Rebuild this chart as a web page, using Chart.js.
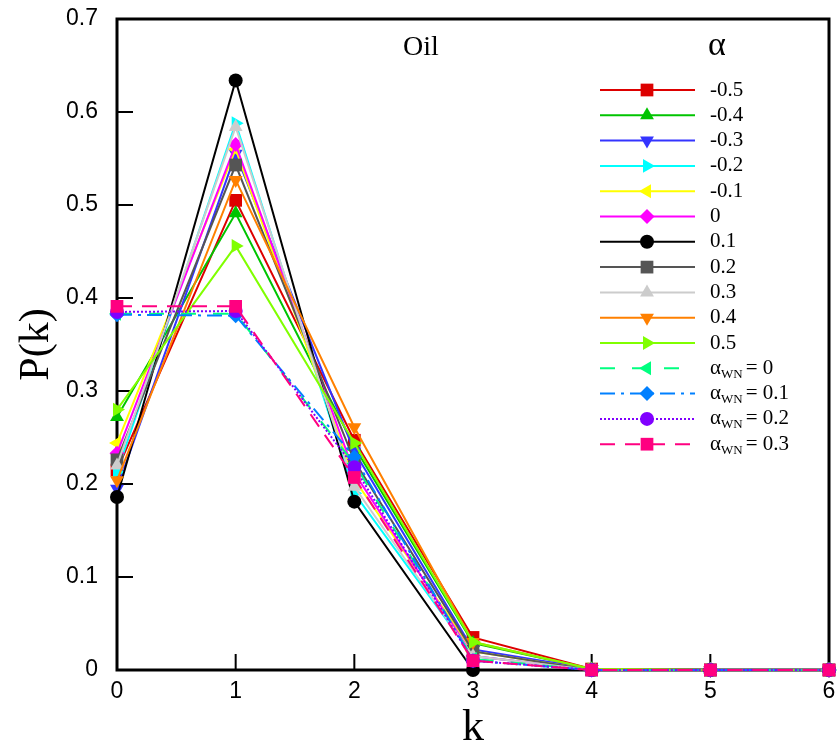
<!DOCTYPE html>
<html>
<head>
<meta charset="utf-8">
<script src="https://cdn.jsdelivr.net/npm/chart.js@4"></script>
<style>
  html, body { margin: 0; padding: 0; background: #fff; }
  #wrap { width: 838px; height: 748px; }
</style>
</head>
<body>
<div id="wrap"><canvas id="chart" width="838" height="748"></canvas></div>
<script>
// degree distribution P(k) for the oil network, one line per alpha
const kValues = [0, 1, 2, 3, 4, 5, 6];
const yTicks = [0, 0.1, 0.2, 0.3, 0.4, 0.5, 0.6, 0.7];

const seriesLabels = ["-0.5", "-0.4", "-0.3", "-0.2", "-0.1", "0", "0.1", "0.2", "0.3", "0.4", "0.5",
  "αWN = 0", "αWN = 0.1", "αWN = 0.2", "αWN = 0.3"];

const pAlphaM05 = [0.215, 0.505, 0.247, 0.035, 0.001, 0, 0];
const pAlphaM04 = [0.272, 0.491, 0.240, 0.029, 0.001, 0, 0];
const pAlphaM03 = [0.195, 0.555, 0.235, 0.022, 0.001, 0, 0];
const pAlphaM02 = [0.213, 0.588, 0.190, 0.015, 0, 0, 0];
const pAlphaM01 = [0.244, 0.560, 0.205, 0.020, 0, 0, 0];
const pAlpha0 = [0.233, 0.565, 0.212, 0.015, 0, 0, 0];
const pAlpha01 = [0.186, 0.634, 0.181, 0.000, 0, 0, 0];
const pAlpha02 = [0.226, 0.543, 0.225, 0.020, 0, 0, 0];
const pAlpha03 = [0.220, 0.584, 0.197, 0.015, 0, 0, 0];
const pAlpha04 = [0.204, 0.527, 0.261, 0.030, 0.001, 0, 0];
const pAlpha05 = [0.280, 0.456, 0.244, 0.030, 0.001, 0, 0];
const pWN0 = [0.383, 0.383, 0.222, 0.012, 0, 0, 0];
const pWN01 = [0.382, 0.381, 0.229, 0.010, 0, 0, 0];
const pWN02 = [0.385, 0.386, 0.218, 0.010, 0, 0, 0];
const pWN03 = [0.391, 0.391, 0.207, 0.010, 0, 0, 0];

const seriesValues = [pAlphaM05, pAlphaM04, pAlphaM03, pAlphaM02, pAlphaM01, pAlpha0, pAlpha01,
  pAlpha02, pAlpha03, pAlpha04, pAlpha05, pWN0, pWN01, pWN02, pWN03];

// styles: colour, marker, rotation, dash
const styles = [
  { color: "#dd0000", marker: "rect", rot: 0, dash: [] },
  { color: "#00c400", marker: "triangle", rot: 0, dash: [] },
  { color: "#3434ff", marker: "triangle", rot: 180, dash: [] },
  { color: "#00ffff", marker: "triangle", rot: 90, dash: [] },
  { color: "#ffff00", marker: "triangle", rot: 270, dash: [] },
  { color: "#ff00ff", marker: "rectRot", rot: 0, dash: [] },
  { color: "#000000", marker: "circle", rot: 0, dash: [] },
  { color: "#555555", marker: "rect", rot: 0, dash: [] },
  { color: "#cccccc", marker: "triangle", rot: 0, dash: [] },
  { color: "#ff8000", marker: "triangle", rot: 180, dash: [] },
  { color: "#80ff00", marker: "triangle", rot: 90, dash: [] },
  { color: "#00ff80", marker: "triangle", rot: 270, dash: [15, 17] },
  { color: "#0080ff", marker: "rectRot", rot: 0, dash: [15, 6, 3, 6] },
  { color: "#8000ff", marker: "circle", rot: 0, dash: [2, 2] },
  { color: "#ff0080", marker: "rect", rot: 0, dash: [15, 10] },
];

const serif = "'Liberation Serif', 'Times New Roman', serif";
const sans = "'Liberation Sans', Arial, sans-serif";

function markerRadius(m) {
  if (m === "circle") return 7;
  if (m === "rectRot") return 7.5;
  if (m === "triangle") return 8;
  return 9;
}

const datasets = seriesValues.map((vals, i) => ({
  label: seriesLabels[i],
  data: kValues.map((k, j) => ({ x: k, y: vals[j] })),
  borderColor: styles[i].color,
  backgroundColor: styles[i].color,
  borderWidth: 2,
  borderDash: styles[i].dash,
  pointStyle: styles[i].marker,
  pointRotation: styles[i].rot,
  pointRadius: markerRadius(styles[i].marker),
  pointBorderWidth: 0,
  pointBackgroundColor: styles[i].color,
  tension: 0,
  clip: false,
  order: seriesLabels.length - i,
}));

// box frame + inward ticks, drawn under the data
const framePlugin = {
  id: "frame",
  beforeDatasetsDraw(chart) {
    const { ctx, chartArea: a, scales } = chart;
    ctx.save();
    ctx.strokeStyle = "#000";
    ctx.lineWidth = 2;
    kValues.forEach((k) => {
      const x = scales.x.getPixelForValue(k);
      ctx.beginPath();
      ctx.moveTo(x, a.bottom);
      ctx.lineTo(x, a.bottom - 16);
      ctx.stroke();
    });
    yTicks.forEach((v) => {
      const y = scales.y.getPixelForValue(v);
      ctx.beginPath();
      ctx.moveTo(a.left, y);
      ctx.lineTo(a.left + 16, y);
      ctx.stroke();
    });
    ctx.lineWidth = 3;
    ctx.strokeRect(a.left, a.top, a.right - a.left, a.bottom - a.top);
    ctx.fillStyle = "#000";
    ctx.font = "28px " + serif;
    ctx.textAlign = "center";
    ctx.textBaseline = "middle";
    ctx.fillText("Oil", 421, 48);
    ctx.restore();
  },
};

// legend column at top right of the plot
const legendPlugin = {
  id: "sideLegend",
  afterDraw(chart) {
    const { ctx } = chart;
    ctx.save();
    ctx.fillStyle = "#000";
    ctx.font = "34px " + serif;
    ctx.textAlign = "center";
    ctx.textBaseline = "middle";
    ctx.fillText("α", 717, 46);
    chart.data.datasets.forEach((ds, i) => {
      const y = 90 + i * 25.3;
      ctx.save();
      ctx.strokeStyle = ds.borderColor;
      ctx.lineWidth = 2;
      ctx.setLineDash(ds.borderDash);
      ctx.beginPath();
      ctx.moveTo(600, y);
      ctx.lineTo(695, y);
      ctx.stroke();
      ctx.restore();
      ctx.fillStyle = ds.backgroundColor;
      Chart.helpers.drawPoint(ctx, {
        pointStyle: ds.pointStyle,
        rotation: ds.pointRotation,
        radius: ds.pointRadius,
        borderWidth: 0,
      }, 647, y);
      ctx.fillStyle = "#000";
      ctx.textAlign = "left";
      ctx.textBaseline = "middle";
      const lab = ds.label;
      if (lab.startsWith("αWN")) {
        ctx.font = "21px " + serif;
        ctx.fillText("α", 710, y);
        let x = 710 + ctx.measureText("α").width;
        ctx.font = "13px " + serif;
        ctx.fillText("WN", x, y + 6);
        x += ctx.measureText("WN").width + 3;
        ctx.font = "21px " + serif;
        ctx.fillText(lab.slice(3).trim(), x, y);
      } else {
        ctx.font = "21px " + serif;
        ctx.fillText(lab, 710, y);
      }
    });
    ctx.restore();
  },
};

new Chart(document.getElementById("chart").getContext("2d"), {
  type: "line",
  data: { datasets },
  options: {
    responsive: false,
    animation: false,
    layout: { padding: { top: 19, right: 9, left: 0, bottom: 0 } },
    plugins: { legend: { display: false }, tooltip: { enabled: false } },
    scales: {
      x: {
        type: "linear",
        min: 0,
        max: 6,
        border: { display: false },
        grid: { display: false, drawTicks: false },
        ticks: {
          stepSize: 1,
          padding: 8,
          color: "#000",
          font: { family: sans, size: 23 },
        },
        title: {
          display: true,
          text: "k",
          color: "#000",
          font: { family: serif, size: 44, lineHeight: 0.9 },
          padding: { top: 0, bottom: 0 },
        },
        afterFit(scale) {
          scale.height = 78;
          scale.paddingLeft = 0;
          scale.paddingRight = 0;
        },
      },
      y: {
        type: "linear",
        min: 0,
        max: 0.7,
        border: { display: false },
        grid: { display: false, drawTicks: false },
        ticks: {
          stepSize: 0.1,
          padding: 19,
          color: "#000",
          font: { family: sans, size: 23 },
          callback: (v) => String(Math.round(v * 10) / 10),
        },
        title: {
          display: true,
          text: "P(k)",
          color: "#000",
          font: { family: serif, size: 42 },
          padding: { top: 12, bottom: 0 },
        },
        afterFit(scale) {
          scale.width = 117;
          scale.paddingTop = 0;
          scale.paddingBottom = 0;
        },
      },
    },
  },
  plugins: [framePlugin, legendPlugin],
});
</script>
</body>
</html>
